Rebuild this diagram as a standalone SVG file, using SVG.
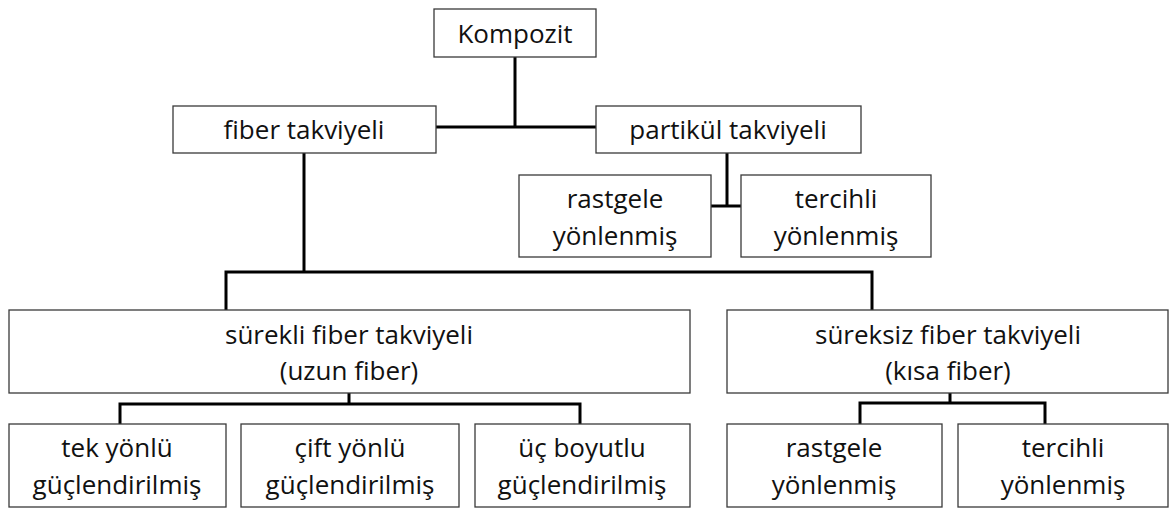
<svg xmlns="http://www.w3.org/2000/svg" width="1171" height="511" viewBox="0 0 1171 511">
<style>
.box{fill:#fff;stroke:#3a3a3a;stroke-width:1.3}
.t{font-family:"Open Sans","Noto Sans",sans-serif;font-size:26px;fill:#111;text-anchor:middle;font-variant-ligatures:none}
.c{fill:none;stroke:#000;stroke-width:3}
</style>
<rect width="1171" height="511" fill="#fff"/>
<g id="connectors">
<path class="c" d="M515 57V127M436 127H596"/>
<path class="c" d="M727 153V206M711 206H741"/>
<path class="c" d="M304 153V272M226 310V272H872V310"/>
<path class="c" d="M349 393V404M120 424V404H580V424"/>
<path class="c" d="M950 393V403M860 424V403H1045V424"/>
</g>
<g id="kompozit"><rect class="box" x="434" y="9" width="162" height="48"/><text class="t" x="515" y="43">Kompozit</text></g>
<g id="fiber"><rect class="box" x="173" y="106" width="263" height="47"/><text class="t" x="304" y="139">fiber takviyeli</text></g>
<g id="partikul"><rect class="box" x="596" y="106" width="265" height="47"/><text class="t" x="728" y="139">partikül takviyeli</text></g>
<g id="p-rastgele"><rect class="box" x="519" y="175" width="192" height="82"/><text class="t" x="615" y="208">rastgele</text><text class="t" x="615" y="245">yönlenmiş</text></g>
<g id="p-tercihli"><rect class="box" x="741" y="175" width="190" height="82"/><text class="t" x="836" y="208">tercihli</text><text class="t" x="836" y="245">yönlenmiş</text></g>
<g id="surekli"><rect class="box" x="9" y="310" width="681" height="83"/><text class="t" x="349" y="344">sürekli fiber takviyeli</text><text class="t" x="349" y="380">(uzun fiber)</text></g>
<g id="sureksiz"><rect class="box" x="727" y="310" width="441" height="83"/><text class="t" x="948" y="344">süreksiz fiber takviyeli</text><text class="t" x="948" y="380">(kısa fiber)</text></g>
<g id="tek"><rect class="box" x="9" y="424" width="217" height="83"/><text class="t" x="117" y="457">tek yönlü</text><text class="t" x="117" y="494">güçlendirilmiş</text></g>
<g id="cift"><rect class="box" x="241" y="424" width="218" height="83"/><text class="t" x="350" y="457">çift yönlü</text><text class="t" x="350" y="494">güçlendirilmiş</text></g>
<g id="uc"><rect class="box" x="475" y="424" width="215" height="83"/><text class="t" x="582" y="457">üç boyutlu</text><text class="t" x="582" y="494">güçlendirilmiş</text></g>
<g id="s-rastgele"><rect class="box" x="727" y="424" width="215" height="83"/><text class="t" x="834" y="457">rastgele</text><text class="t" x="834" y="494">yönlenmiş</text></g>
<g id="s-tercihli"><rect class="box" x="958" y="424" width="210" height="83"/><text class="t" x="1063" y="457">tercihli</text><text class="t" x="1063" y="494">yönlenmiş</text></g>
</svg>
